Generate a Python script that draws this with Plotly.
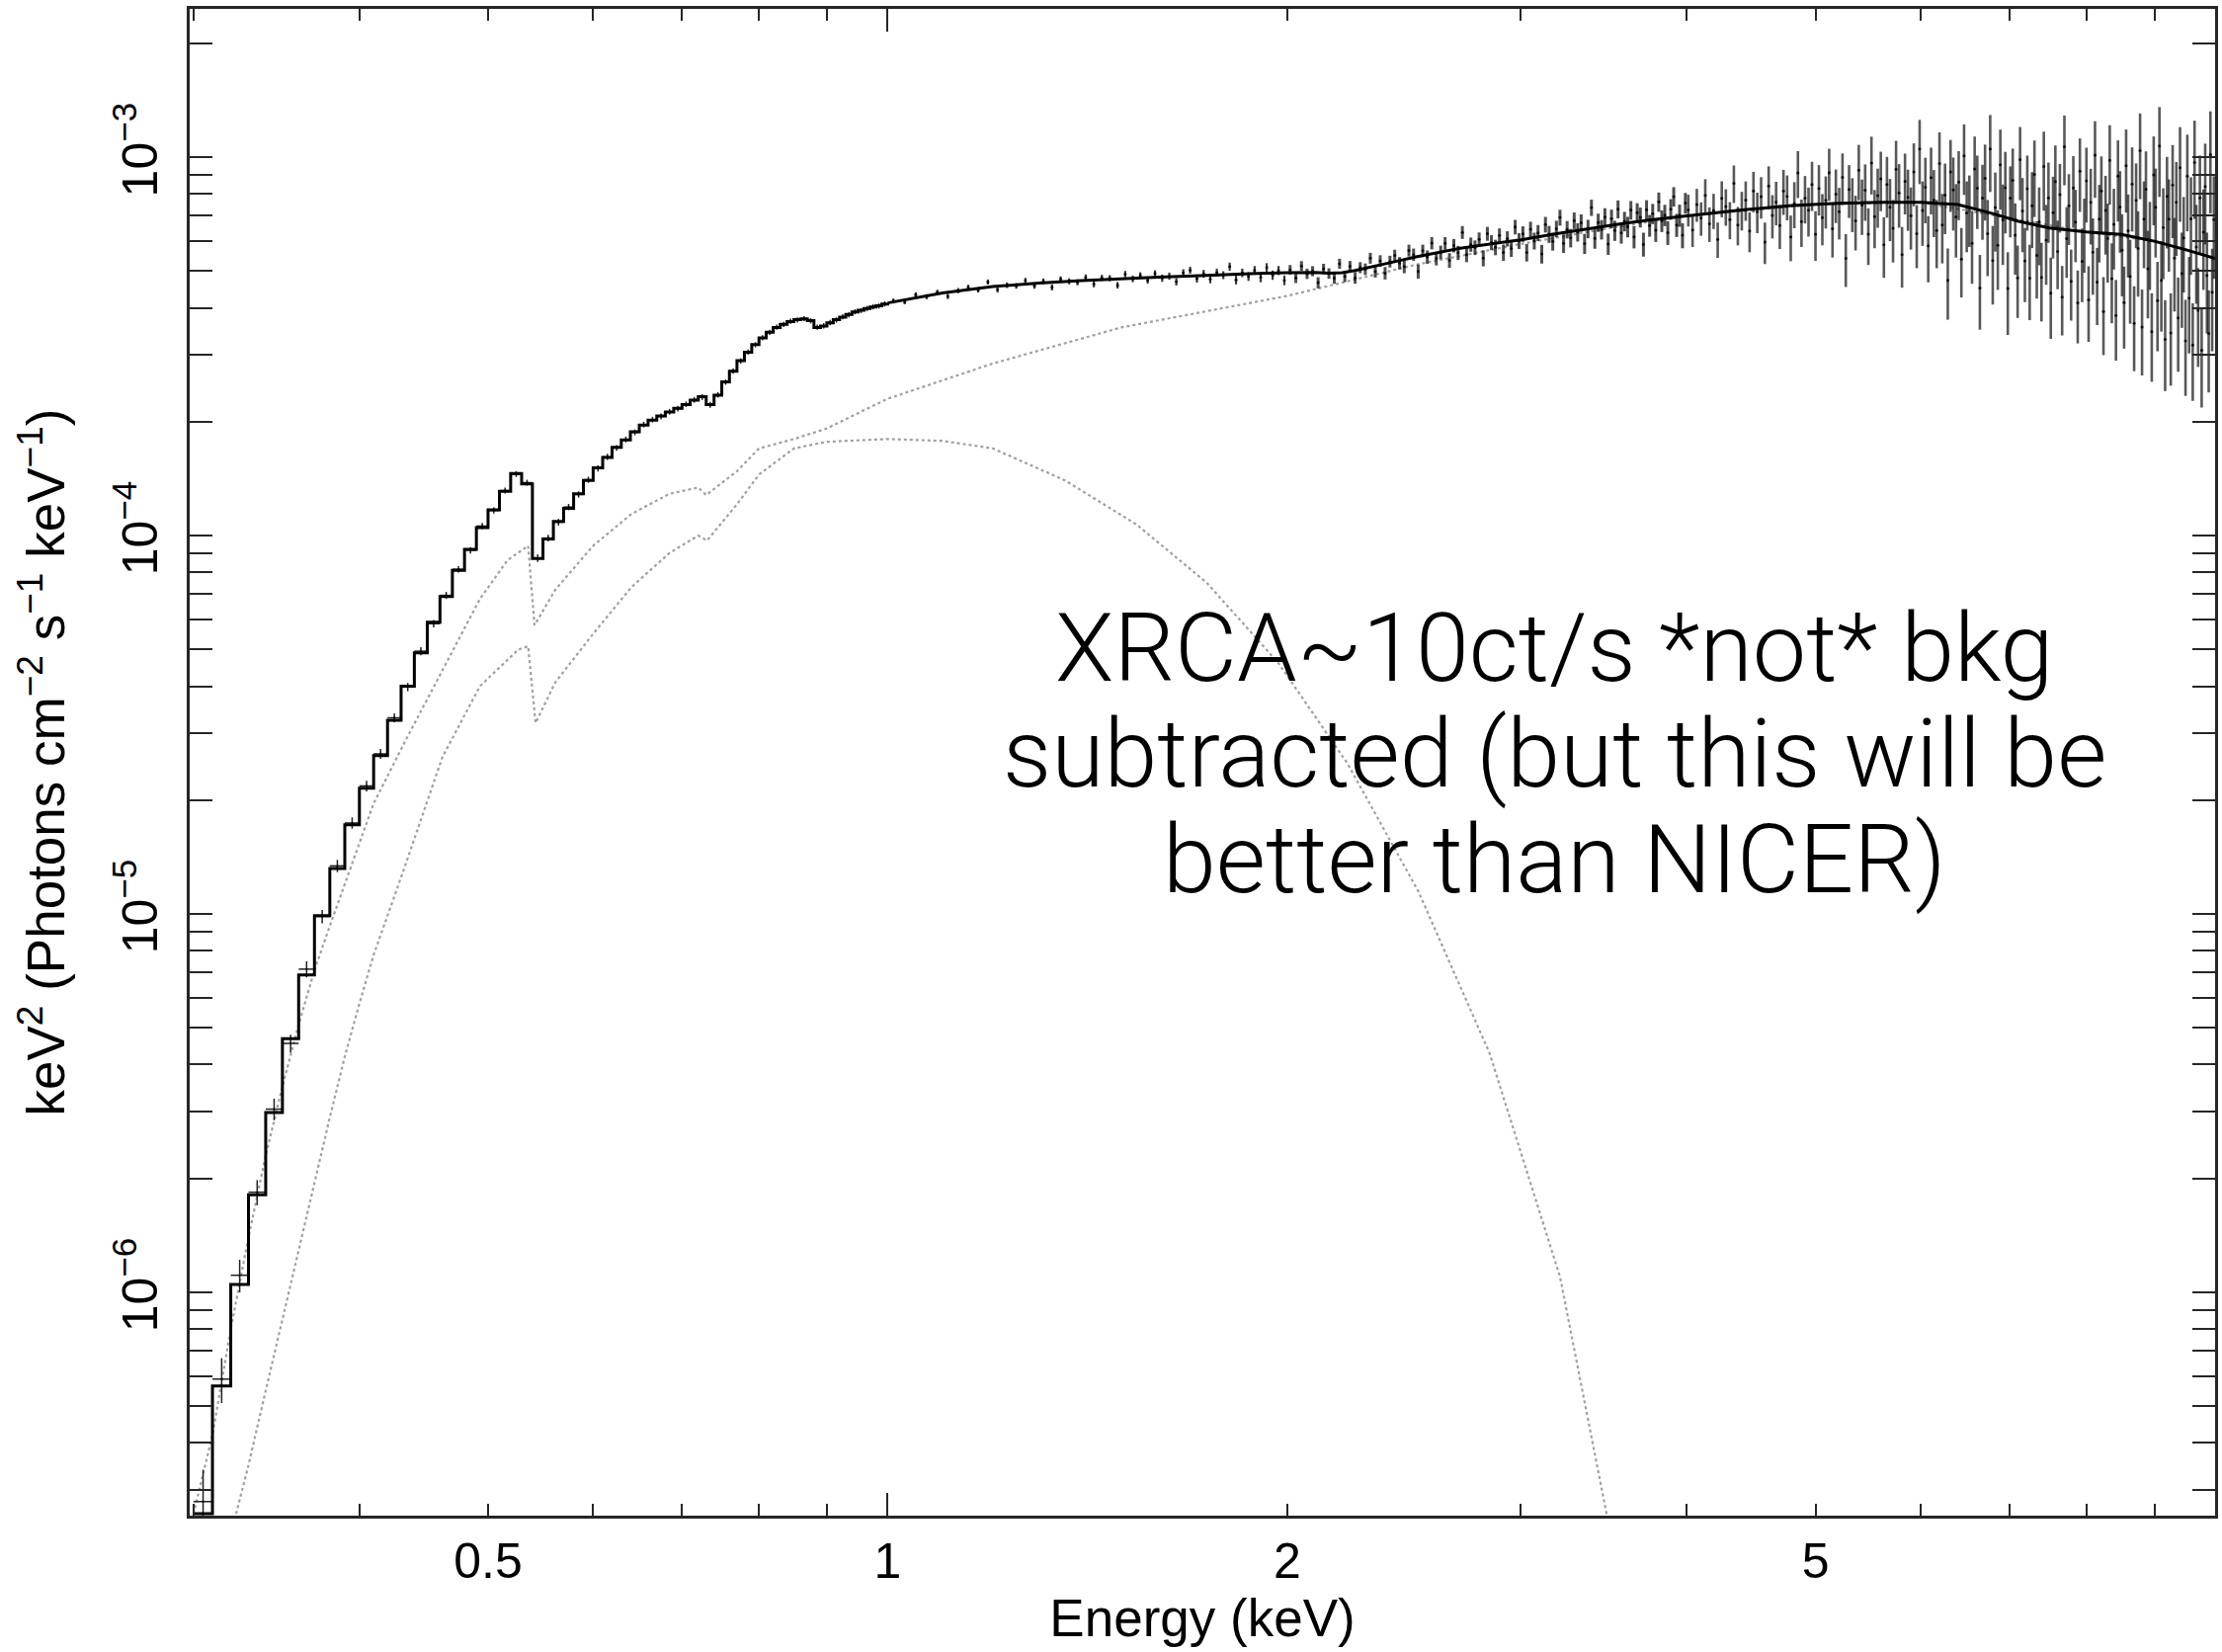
import math
import plotly.graph_objects as go

UNIT = 1e-4  # all flux lists below are in units of 1e-4 keV^2 (Photons cm^-2 s^-1 keV^-1)

# ---------------- model (stepped, low energy bins; left bin edges) ----------------
model_lo_energy = [0.30, 0.31, 0.32, 0.33, 0.34, 0.35, 0.36, 0.37, 0.38, 0.39,
                   0.40, 0.41, 0.42, 0.43, 0.44, 0.45, 0.46, 0.47, 0.48, 0.49,
                   0.50, 0.51, 0.52, 0.53, 0.54, 0.55, 0.56, 0.57, 0.58, 0.59,
                   0.60, 0.61, 0.62, 0.63, 0.64, 0.65, 0.66, 0.67, 0.68, 0.69,
                   0.70, 0.71, 0.72, 0.73, 0.74, 0.75, 0.76, 0.77, 0.78, 0.79,
                   0.80, 0.81, 0.82, 0.83, 0.84, 0.85, 0.86, 0.87, 0.88, 0.89,
                   0.90, 0.91, 0.92, 0.93, 0.94, 0.95, 0.96, 0.97, 0.98, 0.99, 1.00]
model_lo_flux = [0.0026, 0.00566, 0.0105, 0.0181, 0.0299, 0.0468, 0.069, 0.099, 0.132, 0.172,
                 0.215, 0.262, 0.325, 0.40, 0.49, 0.59, 0.69, 0.81, 0.92, 1.05,
                 1.17, 1.31, 1.46, 1.37, 0.87, 0.98, 1.09, 1.18, 1.29, 1.40,
                 1.51, 1.61, 1.71, 1.79, 1.88, 1.96, 2.02, 2.07, 2.12, 2.17,
                 2.22, 2.28, 2.33, 2.22, 2.35, 2.55, 2.72, 2.90, 3.05, 3.20,
                 3.33, 3.45, 3.55, 3.62, 3.68, 3.72, 3.74, 3.70, 3.55, 3.58,
                 3.65, 3.72, 3.78, 3.84, 3.90, 3.94, 3.98, 4.02, 4.05, 4.09, 4.12]

# ---------------- model (smooth, higher energies) ----------------
model_hi_energy = [1.00, 1.05, 1.10, 1.20, 1.30, 1.40, 1.50, 1.60, 1.70, 1.80, 1.90, 2.00,
                   2.10, 2.15, 2.20, 2.25, 2.30, 2.40, 2.50, 2.60, 2.70, 2.80, 2.90, 3.00,
                   3.20, 3.40, 3.60, 3.80, 4.00, 4.40, 4.80, 5.20, 5.60, 6.00, 6.40, 6.80,
                   7.10, 7.20, 7.50, 8.00, 8.50, 9.00, 9.50, 10.0]
model_hi_flux = [4.12, 4.25, 4.38, 4.55, 4.65, 4.72, 4.78, 4.82, 4.86, 4.90, 4.93, 4.95,
                 4.96, 4.94, 4.95, 5.02, 5.10, 5.28, 5.45, 5.60, 5.75, 5.85, 5.95, 6.05,
                 6.29, 6.50, 6.70, 6.86, 7.00, 7.25, 7.45, 7.55, 7.60, 7.60, 7.50, 7.10,
                 6.78, 6.70, 6.50, 6.35, 6.25, 6.00, 5.70, 5.40]

# ---------------- dotted model components ----------------
pl_energy = [0.300, 0.31, 0.32, 0.33, 0.34, 0.35, 0.36, 0.37, 0.38, 0.39, 0.41, 0.433,
             0.462, 0.493, 0.517, 0.536, 0.542, 0.562, 0.60, 0.641, 0.685, 0.72, 0.73,
             0.77, 0.80, 0.85, 0.90, 1.0, 1.2, 1.5, 2.0, 2.5, 3.0, 3.5, 4.0, 5.0, 6.0,
             7.0, 8.0, 9.0, 10.0]
pl_flux = [0.0026, 0.0042, 0.0080, 0.014, 0.023, 0.035, 0.051, 0.071, 0.093, 0.120, 0.196, 0.286,
           0.44, 0.68, 0.86, 0.94, 0.58, 0.72, 0.94, 1.14, 1.29, 1.34, 1.28,
           1.48, 1.70, 1.80, 1.92, 2.30, 2.85, 3.55, 4.30, 5.20, 5.90, 6.50, 7.00, 7.50, 7.60,
           6.90, 6.35, 6.00, 5.40]

disk_energy = [0.323, 0.33, 0.34, 0.35, 0.36, 0.37, 0.38, 0.39, 0.40, 0.41, 0.43, 0.462,
               0.493, 0.527, 0.536, 0.543, 0.562, 0.60, 0.641, 0.685, 0.72, 0.731, 0.77,
               0.80, 0.85, 0.90, 1.0, 1.1, 1.2, 1.36, 1.54, 1.74, 1.97, 2.22, 2.51, 2.84,
               3.21, 3.48, 3.60]
disk_flux = [0.0026, 0.0035, 0.0055, 0.0085, 0.013, 0.0195, 0.029, 0.042, 0.058, 0.078, 0.125, 0.26,
             0.40, 0.50, 0.51, 0.32, 0.41, 0.55, 0.73, 0.90, 1.00, 0.97, 1.21,
             1.45, 1.70, 1.77, 1.80, 1.78, 1.70, 1.40, 1.07, 0.75, 0.46, 0.25, 0.115, 0.043,
             0.011, 0.0026, 0.0015]

# ---------------- data: low-energy binned points (bin centres, +/-0.005 keV) ----------------
data_lo_energy = [0.305, 0.315, 0.325, 0.335, 0.345, 0.355, 0.365, 0.375, 0.385, 0.395,
                  0.405, 0.415, 0.425, 0.435, 0.445, 0.455, 0.465, 0.475, 0.485, 0.495,
                  0.505, 0.515, 0.525, 0.535, 0.545, 0.555, 0.565, 0.575, 0.585, 0.595,
                  0.605, 0.615, 0.625, 0.635, 0.645, 0.655, 0.665, 0.675, 0.685, 0.695,
                  0.705, 0.715, 0.725, 0.735, 0.745, 0.755, 0.765, 0.775, 0.785, 0.795,
                  0.805, 0.815, 0.825, 0.835, 0.845, 0.855, 0.865, 0.875, 0.885, 0.895,
                  0.905, 0.915, 0.925, 0.935, 0.945, 0.955, 0.965, 0.975, 0.985, 0.995]
data_lo_flux = [0.0028, 0.0059, 0.0111, 0.0184, 0.0305, 0.0455, 0.0715, 0.0985, 0.134, 0.174,
                0.218, 0.265, 0.330, 0.398, 0.495, 0.585, 0.695, 0.815, 0.915, 1.06,
                1.165, 1.315, 1.455, 1.38, 0.872, 0.985, 1.085, 1.19, 1.285, 1.405,
                1.505, 1.615, 1.705, 1.795, 1.875, 1.965, 2.025, 2.065, 2.125, 2.165,
                2.225, 2.285, 2.325, 2.215, 2.355, 2.545, 2.725, 2.895, 3.055, 3.195,
                3.335, 3.445, 3.555, 3.615, 3.685, 3.715, 3.745, 3.695, 3.555, 3.585,
                3.655, 3.715, 3.785, 3.835, 3.905, 3.935, 3.985, 4.025, 4.045, 4.095]
data_lo_err = [0.0006, 0.0008, 0.0011, 0.0014, 0.002, 0.0025, 0.0035, 0.004, 0.005, 0.006,
               0.007, 0.008, 0.009, 0.01, 0.012, 0.013, 0.015, 0.016, 0.018, 0.02,
               0.022, 0.024, 0.026, 0.025, 0.02, 0.02, 0.022, 0.023, 0.025, 0.026,
               0.028, 0.03, 0.03, 0.032, 0.033, 0.034, 0.035, 0.036, 0.037, 0.038,
               0.038, 0.04, 0.04, 0.04, 0.04, 0.042, 0.045, 0.047, 0.05, 0.05,
               0.052, 0.054, 0.055, 0.056, 0.057, 0.058, 0.058, 0.058, 0.057, 0.058,
               0.059, 0.06, 0.06, 0.061, 0.062, 0.062, 0.063, 0.064, 0.064, 0.065]

# ---------------- data: 1-2 keV ----------------
data_b_energy = [1.01, 1.03, 1.05, 1.07, 1.09, 1.11, 1.13, 1.15, 1.17, 1.19,
                 1.21, 1.23, 1.25, 1.27, 1.29, 1.31, 1.33, 1.35, 1.37, 1.39,
                 1.41, 1.43, 1.45, 1.47, 1.49, 1.51, 1.53, 1.55, 1.57, 1.59,
                 1.61, 1.63, 1.65, 1.67, 1.69, 1.71, 1.73, 1.75, 1.77, 1.79,
                 1.81, 1.83, 1.85, 1.87, 1.89, 1.91, 1.93, 1.95, 1.97, 1.99]
data_b_flux = [4.17, 4.15, 4.33, 4.28, 4.40, 4.29, 4.44, 4.53, 4.46, 4.68,
               4.47, 4.59, 4.57, 4.72, 4.57, 4.70, 4.53, 4.76, 4.70, 4.67,
               4.81, 4.62, 4.80, 4.79, 4.59, 4.91, 4.77, 4.87, 4.73, 4.93,
               4.79, 4.85, 4.69, 4.95, 5.03, 4.78, 4.92, 4.76, 4.96, 4.88,
               5.14, 4.74, 4.95, 4.84, 5.03, 4.81, 5.11, 4.88, 5.02, 4.73]
data_b_err = [0.062, 0.063, 0.064, 0.065, 0.065, 0.070, 0.071, 0.072, 0.072, 0.073,
              0.078, 0.078, 0.078, 0.079, 0.079, 0.084, 0.084, 0.084, 0.085, 0.085,
              0.090, 0.090, 0.090, 0.090, 0.091, 0.096, 0.096, 0.096, 0.096, 0.096,
              0.106, 0.106, 0.106, 0.107, 0.107, 0.117, 0.117, 0.117, 0.117, 0.117,
              0.127, 0.128, 0.128, 0.128, 0.128, 0.138, 0.138, 0.138, 0.139, 0.139]

# ---------------- data: 2-4 keV ----------------
data_c_energy = [2.01, 2.03, 2.05, 2.07, 2.09, 2.11, 2.13, 2.15, 2.17, 2.19,
                 2.21, 2.23, 2.25, 2.27, 2.29, 2.31, 2.33, 2.35, 2.37, 2.39,
                 2.41, 2.43, 2.45, 2.47, 2.49, 2.51, 2.53, 2.55, 2.57, 2.59,
                 2.61, 2.63, 2.65, 2.67, 2.69, 2.71, 2.73, 2.75, 2.77, 2.79,
                 2.81, 2.83, 2.85, 2.87, 2.89, 2.91, 2.93, 2.95, 2.97, 2.99,
                 3.01, 3.03, 3.05, 3.07, 3.09, 3.11, 3.13, 3.15, 3.17, 3.19,
                 3.21, 3.23, 3.25, 3.27, 3.29, 3.31, 3.33, 3.35, 3.37, 3.39,
                 3.41, 3.43, 3.45, 3.47, 3.49, 3.51, 3.53, 3.55, 3.57, 3.59,
                 3.61, 3.63, 3.65, 3.67, 3.69, 3.71, 3.73, 3.75, 3.77, 3.79,
                 3.81, 3.83, 3.85, 3.87, 3.89, 3.91, 3.93, 3.95, 3.97, 3.99]
data_c_flux = [5.04, 4.80, 5.16, 4.92, 5.00, 4.66, 5.07, 4.93, 4.79, 5.23,
               4.84, 5.15, 4.80, 5.11, 5.06, 5.41, 4.99, 5.32, 4.94, 5.30,
               5.50, 5.25, 5.14, 5.67, 5.53, 4.99, 5.66, 5.45, 5.93, 5.40,
               5.61, 5.92, 5.34, 5.84, 5.59, 6.33, 5.53, 5.88, 5.77, 6.07,
               5.41, 6.28, 5.95, 5.78, 6.21, 5.60, 6.09, 5.74, 6.54, 6.01,
               6.27, 5.60, 6.45, 6.01, 6.31, 5.55, 6.64, 6.26, 5.99, 6.47,
               6.93, 5.92, 6.44, 6.12, 6.80, 6.34, 6.71, 5.91, 6.47, 7.36,
               6.10, 6.72, 6.44, 6.95, 5.90, 6.88, 6.40, 7.29, 6.31, 6.77,
               6.55, 7.25, 6.16, 7.14, 6.94, 5.89, 7.27, 6.60, 7.09, 6.41,
               7.62, 6.79, 7.03, 6.32, 7.29, 7.87, 6.62, 7.02, 6.22, 7.57]
data_c_err = [0.149, 0.149, 0.153, 0.153, 0.153, 0.158, 0.158, 0.157, 0.162, 0.161,
              0.162, 0.169, 0.170, 0.171, 0.178, 0.179, 0.180, 0.187, 0.188, 0.189,
              0.196, 0.197, 0.204, 0.205, 0.206, 0.213, 0.214, 0.221, 0.222, 0.223,
              0.230, 0.231, 0.238, 0.239, 0.241, 0.248, 0.249, 0.255, 0.256, 0.257,
              0.264, 0.265, 0.271, 0.272, 0.273, 0.280, 0.281, 0.288, 0.289, 0.290,
              0.297, 0.298, 0.306, 0.307, 0.308, 0.315, 0.316, 0.324, 0.325, 0.326,
              0.334, 0.335, 0.342, 0.343, 0.345, 0.353, 0.354, 0.361, 0.362, 0.363,
              0.371, 0.372, 0.380, 0.381, 0.382, 0.390, 0.391, 0.399, 0.400, 0.401,
              0.409, 0.410, 0.418, 0.419, 0.420, 0.428, 0.428, 0.436, 0.437, 0.438,
              0.446, 0.447, 0.455, 0.456, 0.457, 0.465, 0.466, 0.474, 0.475, 0.476]

# ---------------- data: 4-10 keV ----------------
data_d_energy = [4.01, 4.04, 4.07, 4.10, 4.13, 4.16, 4.19, 4.22, 4.25, 4.28, 4.31, 4.34, 4.37, 4.40, 4.43, 4.46, 4.49, 4.52, 4.55, 4.58,
                 4.61, 4.64, 4.67, 4.70, 4.73, 4.76, 4.79, 4.82, 4.85, 4.88, 4.91, 4.94, 4.97, 5.00, 5.03, 5.06, 5.09, 5.12, 5.15, 5.18,
                 5.21, 5.24, 5.27, 5.30, 5.33, 5.36, 5.39, 5.42, 5.45, 5.48, 5.51, 5.54, 5.57, 5.60, 5.63, 5.66, 5.69, 5.72, 5.75, 5.78,
                 5.81, 5.84, 5.87, 5.90, 5.93, 5.96, 5.99, 6.02, 6.05, 6.08, 6.11, 6.14, 6.17, 6.20, 6.23, 6.26, 6.29, 6.32, 6.35, 6.38,
                 6.41, 6.44, 6.47, 6.50, 6.53, 6.56, 6.59, 6.62, 6.65, 6.68, 6.71, 6.74, 6.77, 6.80, 6.83, 6.86, 6.89, 6.92, 6.95, 6.98,
                 7.01, 7.04, 7.07, 7.10, 7.13, 7.16, 7.19, 7.22, 7.25, 7.28, 7.31, 7.34, 7.37, 7.40, 7.43, 7.46, 7.49, 7.52, 7.55, 7.58,
                 7.61, 7.64, 7.67, 7.70, 7.73, 7.76, 7.79, 7.82, 7.85, 7.88, 7.91, 7.94, 7.97, 8.00, 8.03, 8.06, 8.09, 8.12, 8.15, 8.18,
                 8.21, 8.24, 8.27, 8.30, 8.33, 8.36, 8.39, 8.42, 8.45, 8.48, 8.51, 8.54, 8.57, 8.60, 8.63, 8.66, 8.69, 8.72, 8.75, 8.78,
                 8.81, 8.84, 8.87, 8.90, 8.93, 8.96, 8.99, 9.02, 9.05, 9.08, 9.11, 9.14, 9.17, 9.20, 9.23, 9.26, 9.29, 9.32, 9.35, 9.38,
                 9.41, 9.44, 9.47, 9.50, 9.53, 9.56, 9.59, 9.62, 9.65, 9.68, 9.71, 9.74, 9.77, 9.80, 9.83, 9.86, 9.89, 9.92, 9.95, 9.98]
data_d_flux = [7.26, 6.42, 7.50, 6.90, 7.93, 6.67, 7.23, 6.07, 7.79, 7.41, 6.84, 8.54, 6.62, 7.25, 7.71, 6.38, 8.15, 7.18, 7.87, 5.97,
               8.39, 7.02, 7.61, 6.60, 8.15, 7.88, 6.16, 7.54, 9.09, 6.76, 7.80, 7.24, 8.47, 6.26, 8.27, 6.92, 7.69, 9.10, 6.47, 7.99,
               7.18, 8.85, 5.40, 8.22, 7.57, 6.79, 9.24, 7.48, 8.18, 6.26, 9.65, 6.97, 7.92, 8.77, 5.87, 8.47, 7.38, 6.49, 9.29, 8.05,
               5.53, 8.64, 7.83, 7.01, 9.15, 6.28, 10.52, 7.23, 8.33, 5.83, 8.83, 7.70, 6.40, 9.63, 6.62, 7.94, 4.73, 9.14, 8.19, 6.96,
               8.60, 5.38, 10.08, 7.12, 7.37, 5.92, 9.31, 8.28, 4.51, 7.80, 8.80, 6.28, 10.51, 5.33, 7.37, 5.85, 9.55, 6.83, 8.31, 4.50,
               7.80, 8.69, 6.22, 4.80, 9.86, 7.21, 5.32, 8.25, 4.79, 7.44, 9.01, 5.50, 6.75, 4.81, 9.45, 6.04, 7.81, 4.37, 7.14, 8.63,
               5.64, 7.96, 4.27, 10.66, 6.09, 7.44, 4.70, 8.29, 6.74, 4.12, 9.19, 5.31, 6.36, 8.66, 4.20, 7.60, 5.61, 10.13, 4.68, 6.86,
               8.15, 3.91, 7.23, 6.10, 9.82, 4.78, 6.65, 3.82, 8.92, 7.39, 5.68, 4.13, 9.49, 6.39, 4.84, 8.49, 3.64, 7.69, 5.74, 10.40,
               3.56, 6.86, 8.23, 5.07, 6.04, 3.46, 8.98, 7.38, 4.18, 10.71, 4.73, 6.52, 3.30, 7.88, 6.86, 3.43, 8.44, 5.41, 7.60, 3.76,
               9.38, 4.93, 6.12, 3.27, 8.92, 4.24, 6.87, 3.19, 9.68, 5.79, 3.94, 7.81, 3.09, 6.34, 8.37, 4.87, 3.42, 10.16, 4.40, 6.84]
data_d_err = [0.70, 0.63, 0.75, 0.70, 0.82, 0.70, 0.77, 0.65, 0.85, 0.82, 0.77, 0.97, 0.77, 0.85, 0.92, 0.77, 1.00, 0.88, 0.99, 0.75,
              1.07, 0.92, 1.00, 0.88, 1.11, 1.07, 0.85, 1.05, 1.29, 0.97, 1.12, 1.07, 1.26, 0.94, 1.26, 1.07, 1.21, 1.43, 1.04, 1.29,
              1.12, 1.38, 0.86, 1.31, 1.23, 1.12, 1.54, 1.25, 1.39, 1.07, 1.68, 1.22, 1.41, 1.57, 1.07, 1.55, 1.38, 1.22, 1.76, 1.54,
              1.01, 1.58, 1.44, 1.31, 1.73, 1.19, 2.03, 1.40, 1.64, 1.16, 1.77, 1.55, 1.31, 2.00, 1.38, 1.68, 1.01, 1.97, 1.79, 1.53,
              1.78, 1.12, 2.13, 1.51, 1.58, 1.29, 2.03, 1.82, 1.01, 1.75, 2.00, 1.43, 2.42, 1.25, 1.74, 1.39, 2.28, 1.64, 2.02, 1.11,
              1.66, 1.85, 1.33, 1.04, 2.16, 1.60, 1.18, 1.85, 1.08, 1.69, 2.06, 1.27, 1.57, 1.13, 2.23, 1.44, 1.87, 1.06, 1.74, 2.11,
              1.16, 1.64, 0.89, 2.23, 1.29, 1.58, 1.00, 1.78, 1.46, 0.90, 2.02, 1.17, 1.41, 1.94, 0.95, 1.72, 1.28, 2.32, 1.08, 1.59,
              1.90, 0.91, 1.70, 1.44, 2.33, 1.14, 1.60, 0.92, 2.16, 1.80, 1.39, 1.01, 2.35, 1.58, 1.21, 2.13, 0.92, 1.94, 1.46, 2.65,
              0.91, 1.77, 2.13, 1.32, 1.58, 0.91, 2.37, 1.95, 1.11, 2.86, 1.27, 1.76, 0.89, 2.14, 1.88, 0.94, 2.33, 1.50, 2.12, 1.05,
              2.63, 1.39, 1.73, 0.93, 2.55, 1.21, 1.98, 0.92, 2.81, 1.69, 1.15, 2.29, 0.91, 1.88, 2.49, 1.45, 1.03, 3.06, 1.33, 2.07]

# ---------------- axes ----------------
x_tick_vals = [0.5, 1, 2, 5]
x_tick_text = ["0.5", "1", "2", "5"]
x_minor_vals = [0.3, 0.4, 0.6, 0.7, 0.8, 0.9, 3, 4, 6, 7, 8, 9]
x_long_tick_vals = [1, 10]
y_tick_vals = [1e-6, 1e-5, 1e-4, 1e-3]
y_tick_text = ["10<sup>\u22126</sup>", "10<sup>\u22125</sup>", "10<sup>\u22124</sup>", "10<sup>\u22123</sup>"]
y_minor_vals = [3e-7, 4e-7, 5e-7, 6e-7, 7e-7, 8e-7, 9e-7,
                2e-6, 3e-6, 4e-6, 5e-6, 6e-6, 7e-6, 8e-6, 9e-6,
                2e-5, 3e-5, 4e-5, 5e-5, 6e-5, 7e-5, 8e-5, 9e-5,
                2e-4, 3e-4, 4e-4, 5e-4, 6e-4, 7e-4, 8e-4, 9e-4, 2e-3]
x_range = [math.log10(0.298), math.log10(10.0)]
y_range = [-6.590, -2.608]

note_lines = ["XRCA~10ct/s *not* bkg", "subtracted (but this will be", "better than NICER)"]


def scale(vals):
    return [v * UNIT for v in vals]


AX = "#262626"
fig = go.Figure()

comp_line = dict(color="#a0a0a0", width=2.2, dash="dot")
fig.add_trace(go.Scatter(x=pl_energy, y=scale(pl_flux), mode="lines", line=comp_line, hoverinfo="skip"))
fig.add_trace(go.Scatter(x=disk_energy, y=scale(disk_flux), mode="lines", line=comp_line, hoverinfo="skip"))

fig.add_trace(go.Scatter(
    x=data_lo_energy, y=scale(data_lo_flux), mode="markers",
    marker=dict(size=2, color="black"),
    error_y=dict(type="data", array=scale(data_lo_err), thickness=1.5, width=0, color="#222"),
    error_x=dict(type="constant", value=0.005, thickness=1.5, width=0, color="#222"),
    hoverinfo="skip"))

for ex, fx, er, th, col in [(data_b_energy, data_b_flux, data_b_err, 2.2, "rgba(10,10,10,0.8)"),
                            (data_c_energy, data_c_flux, data_c_err, 3.0, "rgba(10,10,10,0.72)"),
                            (data_d_energy, data_d_flux, data_d_err, 2.6, "rgba(10,10,10,0.68)")]:
    fig.add_trace(go.Scatter(
        x=ex, y=scale(fx), mode="markers",
        marker=dict(size=3, color="rgba(0,0,0,0.85)"),
        error_y=dict(type="data", array=scale(er), thickness=th, width=0, color=col),
        hoverinfo="skip"))

fig.add_trace(go.Scatter(x=model_lo_energy, y=scale(model_lo_flux), mode="lines",
                         line=dict(color="black", width=3, shape="hv"), hoverinfo="skip"))
fig.add_trace(go.Scatter(x=model_hi_energy, y=scale(model_hi_flux), mode="lines",
                         line=dict(color="black", width=3), hoverinfo="skip"))

# invisible helper trace for the overlay axis carrying the long decade tick
fig.add_trace(go.Scatter(x=[1], y=[1e-3], xaxis="x2", mode="markers",
                         marker=dict(opacity=0), hoverinfo="skip"))

tick_font = dict(family="Liberation Sans, Arial, sans-serif", size=50, color="black")
title_font = dict(family="Liberation Sans, Arial, sans-serif", size=53, color="black")

fig.update_layout(
    width=2249, height=1672,
    margin=dict(l=192, r=4, t=9, b=138),
    plot_bgcolor="white", paper_bgcolor="white",
    showlegend=False,
    xaxis=dict(
        type="log", range=x_range, tickmode="array", tickvals=x_tick_vals, ticktext=x_tick_text,
        ticks="inside", ticklen=12, tickwidth=2, tickcolor=AX,
        minor=dict(tickmode="array", tickvals=x_minor_vals, ticks="inside", ticklen=12, tickwidth=2,
                   tickcolor=AX, showgrid=False),
        showline=True, linecolor=AX, linewidth=2.5, mirror="allticks",
        showgrid=False, zeroline=False, tickfont=tick_font,
        title=dict(text="Energy (keV)", font=title_font, standoff=8),
    ),
    xaxis2=dict(
        type="log", range=x_range, overlaying="x", anchor="y", side="bottom",
        tickmode="array", tickvals=x_long_tick_vals, ticks="inside", ticklen=23, tickwidth=2,
        tickcolor=AX, showticklabels=False, showline=True, linecolor=AX, linewidth=2.5,
        mirror="allticks", showgrid=False, zeroline=False,
    ),
    yaxis=dict(
        type="log", range=y_range, tickmode="array", tickvals=y_tick_vals, ticktext=y_tick_text,
        tickangle=-90, ticks="inside", ticklen=23, tickwidth=2, tickcolor=AX,
        ticklabelstandoff=10,
        minor=dict(tickmode="array", tickvals=y_minor_vals, ticks="inside", ticklen=12, tickwidth=2,
                   tickcolor=AX, showgrid=False),
        showline=True, linecolor=AX, linewidth=2.5, mirror="allticks",
        showgrid=False, zeroline=False, tickfont=tick_font,
        title=dict(text="keV<sup>2</sup> (Photons cm<sup>\u22122</sup> s<sup>\u22121</sup> keV<sup>\u22121</sup>)",
                   font=title_font, standoff=24),
    ),
)

note_font = dict(family="Roboto, Helvetica Neue, Arial, sans-serif", size=97, color="black", weight=300)
for line, yy in zip(note_lines, [0.5760, 0.5056, 0.4352]):
    fig.add_annotation(text=line, xref="paper", yref="paper", x=0.6737, y=yy,
                       xanchor="center", yanchor="middle", showarrow=False, font=note_font,
                       borderpad=0)

fig.write_html("out.html")
